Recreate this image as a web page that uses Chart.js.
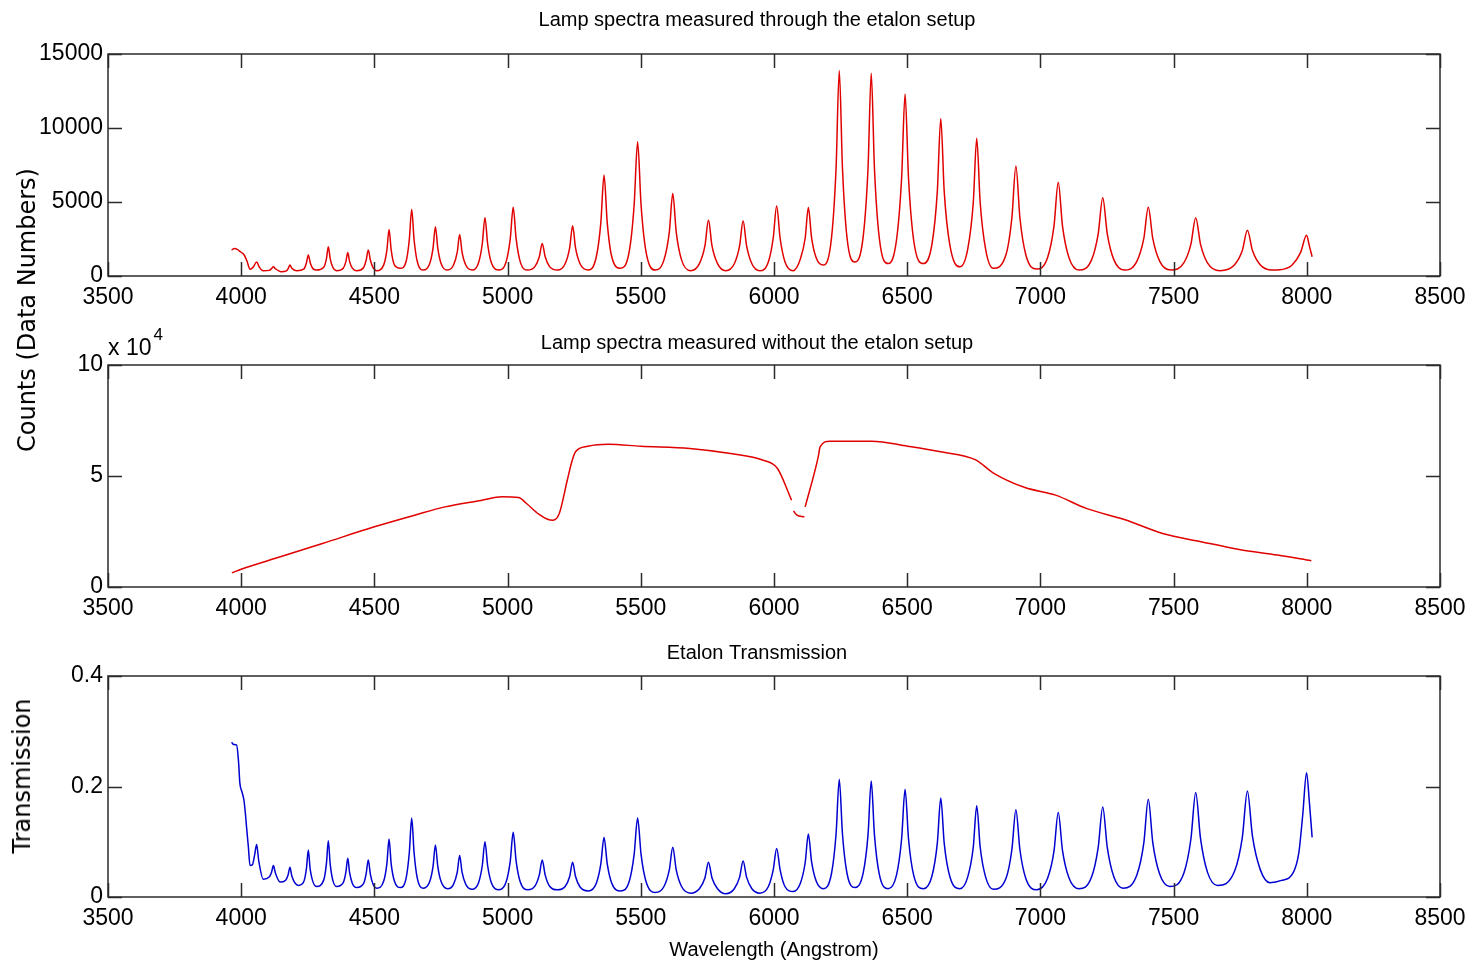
<!DOCTYPE html>
<html>
<head>
<meta charset="utf-8">
<title>Etalon spectra</title>
<script src="https://cdn.jsdelivr.net/npm/chart.js@4.4.1/dist/chart.umd.min.js"></script>
<style>
  html, body { margin: 0; padding: 0; background: #fff; }
  #page { position: relative; width: 1475px; height: 966px; overflow: hidden; }
  #page canvas { position: absolute; left: 0; }
  #c1 { top: 0; }
  #c2 { top: 311px; }
  #c3 { top: 622px; }
  .ylab {
    position: absolute; white-space: nowrap; color: #000;
    font-family: "DejaVu Sans", sans-serif; font-size: 24px;
    transform: translate(-50%, -50%) rotate(-90deg);
  }
</style>
</head>
<body>
<div id="page">
  <canvas id="c1" width="1475" height="311"></canvas>
  <canvas id="c2" width="1475" height="311"></canvas>
  <canvas id="c3" width="1475" height="344"></canvas>
  <div class="ylab" style="left:27px; top:310px;">Counts (Data Numbers)</div>
  <div class="ylab" style="left:22px; top:776px;">Transmission</div>
</div>
<script>
// ---------------------------------------------------------------- DATA

var wavelengthTicks = [3500, 4000, 4500, 5000, 5500, 6000, 6500, 7000, 7500, 8000, 8500];
var etalonTicks = [0, 5000, 10000, 15000];
var lampTicks = [0, 50000, 100000];
var transTicks = [0, 0.2, 0.4];

// [wavelength (A), counts]
var etalonCounts = [
  [3964,1760],[3975,1850],[3985,1800],[3998,1620],[4010,1450],[4022,1000],[4033,450],[4045,600],[4058,950],[4068,600],[4083,360],
  [4105,380],[4114,500],[4121,630],[4128,500],[4150,290],
  [4170,350],[4177,520],[4183,740],[4190,520],[4208,360],
  [4236,480],[4245,900],[4252,1420],[4259,900],[4270,480],[4283,400],
  [4310,590],[4320,1170],[4327,1980],[4334,1170],[4344,590],[4358,360],
  [4383,530],[4393,970],[4400,1580],[4407,970],[4417,530],[4434,360],
  [4459,560],[4469,1060],[4477,1760],[4485,1060],[4495,560],[4509,360],
  [4535,750],[4547,1760],[4555,3150],[4563,1760],[4575,750],[4598,520],
  [4619,980],[4631,2450],[4640,4500],[4649,2450],[4661,980],[4684,400],
  [4707,810],[4720,1870],[4729,3330],[4738,1870],[4751,810],[4775,400],
  [4797,740],[4811,1610],[4820,2810],[4829,1610],[4843,740],[4867,400],
  [4891,900],[4905,2180],[4915,3960],[4925,2180],[4939,900],[4968,400],
  [4995,990],[5010,2520],[5021,4640],[5032,2520],[5047,990],[5076,400],
  [5103,650],[5119,1300],[5130,2200],[5141,1300],[5157,650],[5187,400],
  [5216,830],[5233,1900],[5244,3400],[5255,1900],[5272,830],[5303,400],
  [5333,1300],[5350,3610],[5362,6820],[5374,3610],[5391,1300],[5424,520],
  [5457,1700],[5475,4800],[5488,9070],[5501,4800],[5519,1700],[5554,400],
  [5587,1090],[5607,2970],[5620,5580],[5633,2970],[5653,1090],[5687,360],
  [5720,840],[5741,2070],[5754,3780],[5767,2070],[5788,840],[5819,360],
  [5851,830],[5871,2050],[5884,3740],[5897,2050],[5917,830],[5947,360],
  [5979,970],[5997,2550],[6010,4730],[6023,2550],[6041,970],[6072,360],
  [6099,1150],[6117,2550],[6129,4620],[6141,2600],[6159,1200],[6185,740],
  [6216,2600],[6233,7300],[6245,13880],[6257,7300],[6274,2600],[6304,950],
  [6335,2700],[6353,7300],[6365,13700],[6377,7300],[6395,2600],[6429,840],
  [6460,2450],[6479,6600],[6492,12300],[6505,6600],[6524,2450],[6561,840],
  [6593,2150],[6613,5700],[6626,10650],[6639,5700],[6660,2100],[6698,620],
  [6727,1800],[6748,4950],[6761,9300],[6774,4950],[6795,1750],[6823,520],
  [6871,1450],[6893,3950],[6908,7430],[6923,3950],[6945,1450],[6986,470],
  [7027,1250],[7051,3370],[7067,6330],[7083,3370],[7107,1250],[7145,400],
  [7192,1090],[7217,2850],[7234,5290],[7251,2850],[7276,1090],[7315,400],
  [7362,990],[7388,2520],[7405,4640],[7422,2520],[7448,990],[7490,400],
  [7539,900],[7565,2150],[7583,3940],[7601,2150],[7627,890],[7674,360],
  [7729,760],[7758,1720],[7777,3090],[7796,1720],[7825,760],[7870,400],
  [7920,500],[7944,730],[7977,1600],[7999,2750],[8010,2000],[8020,1300]
];

// middle panel, lamp alone (null = break in the trace)
var lampCounts = [
  [3965,6400],[4000,8000],[4150,13700],[4305,19600],[4500,27100],[4650,32300],[4765,36100],[4900,39000],
  [4979,40600],[5041,40300],[5071,37600],[5117,32800],[5150,30500],[5170,30100],[5194,33100],[5224,48100],
  [5240,56000],[5255,60900],[5301,63400],[5378,64300],[5500,63400],[5684,62400],[5837,60100],[5960,57100],
  [6013,53400],[6066,39100],[6069,null],[6073,34300],[6085,32500],[6114,31600],[6115,null],
  [6117,36100],[6166,58600],[6173,63100],[6209,65700],[6367,65700],[6502,63400],[6626,60900],[6755,57400],
  [6827,51100],[6942,44800],[7057,41400],[7172,35400],[7315,30400],[7459,24100],[7603,20400],[7746,16900],
  [7890,14400],[8017,11800]
];

// bottom panel, etalon transmission
var transmission = [
  [3964,0.280],[3972,0.276],[3983,0.275],[3990,0.245],[3995,0.206],[4003,0.190],[4010,0.176],[4016,0.150],
  [4020,0.127],[4027,0.090],[4033,0.057],[4042,0.058],[4050,0.075],[4058,0.095],[4066,0.065],[4083,0.032],
  [4105,0.036],[4114,0.045],[4121,0.057],[4128,0.044],[4146,0.027],
  [4166,0.030],[4176,0.040],[4183,0.054],[4190,0.038],[4215,0.021],
  [4235,0.028],[4245,0.052],[4252,0.085],[4259,0.050],[4283,0.019],
  [4310,0.031],[4320,0.061],[4327,0.102],[4334,0.060],[4344,0.030],[4358,0.019],
  [4383,0.026],[4393,0.045],[4400,0.070],[4407,0.044],[4417,0.025],[4434,0.017],
  [4459,0.024],[4469,0.042],[4477,0.067],[4485,0.041],[4495,0.023],[4509,0.016],
  [4535,0.029],[4547,0.061],[4555,0.105],[4563,0.060],[4575,0.029],[4598,0.017],
  [4619,0.034],[4631,0.080],[4640,0.143],[4649,0.080],[4661,0.034],[4684,0.016],
  [4707,0.027],[4720,0.055],[4729,0.094],[4738,0.055],[4751,0.027],[4775,0.015],
  [4797,0.023],[4811,0.045],[4820,0.075],[4829,0.045],[4843,0.023],[4867,0.014],
  [4891,0.026],[4905,0.057],[4915,0.100],[4925,0.057],[4939,0.026],[4968,0.013],
  [4995,0.028],[5010,0.065],[5021,0.117],[5032,0.065],[5047,0.028],[5076,0.013],
  [5103,0.020],[5119,0.040],[5130,0.067],[5141,0.040],[5157,0.020],[5187,0.013],
  [5216,0.019],[5233,0.037],[5244,0.063],[5255,0.037],[5272,0.018],[5303,0.011],
  [5333,0.025],[5350,0.060],[5362,0.108],[5374,0.060],[5391,0.025],[5424,0.011],
  [5457,0.029],[5475,0.077],[5488,0.143],[5501,0.077],[5519,0.029],[5554,0.008],
  [5587,0.019],[5607,0.049],[5620,0.090],[5633,0.049],[5653,0.019],[5687,0.007],
  [5720,0.015],[5741,0.035],[5754,0.063],[5767,0.035],[5788,0.015],[5819,0.006],
  [5851,0.015],[5871,0.036],[5884,0.065],[5897,0.036],[5917,0.015],[5947,0.007],
  [5979,0.019],[5997,0.049],[6010,0.088],[6023,0.049],[6041,0.019],[6072,0.010],
  [6099,0.025],[6117,0.062],[6129,0.114],[6141,0.064],[6159,0.028],[6185,0.015],
  [6216,0.043],[6233,0.114],[6245,0.213],[6257,0.114],[6274,0.043],[6304,0.017],
  [6335,0.044],[6353,0.113],[6365,0.210],[6377,0.113],[6395,0.042],[6429,0.015],
  [6460,0.040],[6479,0.105],[6492,0.195],[6505,0.105],[6524,0.040],[6561,0.015],
  [6593,0.038],[6613,0.097],[6626,0.179],[6639,0.097],[6660,0.037],[6698,0.015],
  [6727,0.036],[6748,0.090],[6761,0.165],[6774,0.090],[6795,0.035],[6823,0.014],
  [6871,0.034],[6893,0.086],[6908,0.158],[6923,0.086],[6945,0.034],[6986,0.013],
  [7027,0.034],[7051,0.083],[7067,0.153],[7083,0.084],[7107,0.035],[7145,0.015],
  [7192,0.036],[7217,0.090],[7234,0.163],[7251,0.090],[7276,0.036],[7310,0.016],
  [7362,0.040],[7388,0.097],[7405,0.177],[7422,0.098],[7448,0.041],[7486,0.019],
  [7539,0.044],[7565,0.105],[7583,0.189],[7601,0.106],[7627,0.045],[7665,0.021],
  [7729,0.047],[7758,0.108],[7777,0.192],[7796,0.110],[7825,0.050],[7862,0.026],
  [7905,0.030],[7949,0.044],[7970,0.080],[7985,0.150],[7999,0.225],[8010,0.170],[8020,0.108]
];

// ---------------------------------------------------------------- HELPERS

var SANS = '"Liberation Sans", Arial, sans-serif';

function toPoints(pairs) {
  return pairs.map(function (p) { return { x: p[0], y: p[1] }; });
}

function setTicks(list) {
  return function (scale) {
    scale.ticks = list.map(function (v) { return { value: v }; });
  };
}

// matlab style frame: full box + inward ticks on all four sides
var matlabBox = {
  id: 'matlabBox',
  afterDatasetsDraw: function (chart) {
    var a = chart.chartArea, ctx = chart.ctx;
    var xs = chart.scales.x, ys = chart.scales.y, len = 14;
    ctx.save();
    ctx.strokeStyle = '#2b2b2b';
    ctx.lineWidth = 1.5;
    ctx.strokeRect(a.left, a.top, a.right - a.left, a.bottom - a.top);
    ctx.beginPath();
    xs.ticks.forEach(function (t) {
      var px = Math.round(xs.getPixelForValue(t.value)) + 0.5;
      ctx.moveTo(px, a.bottom); ctx.lineTo(px, a.bottom - len);
      ctx.moveTo(px, a.top); ctx.lineTo(px, a.top + len);
    });
    ys.ticks.forEach(function (t) {
      var py = Math.round(ys.getPixelForValue(t.value)) + 0.5;
      ctx.moveTo(a.left, py); ctx.lineTo(a.left + len, py);
      ctx.moveTo(a.right, py); ctx.lineTo(a.right - len, py);
    });
    ctx.stroke();
    ctx.restore();
  }
};

// panel title, centred a little left of the axes like the matlab figure
var panelTitle = {
  id: 'panelTitle',
  afterDraw: function (chart, args, opts) {
    var ctx = chart.ctx;
    ctx.save();
    ctx.fillStyle = '#000';
    ctx.font = '20px ' + SANS;
    ctx.textAlign = 'center';
    ctx.textBaseline = 'middle';
    ctx.fillText(opts.text, 757, opts.y);
    if (opts.exponent) {
      // "x 10^4" multiplier above the middle axes
      var a = chart.chartArea;
      ctx.textAlign = 'left';
      ctx.textBaseline = 'alphabetic';
      ctx.font = '23px ' + SANS;
      ctx.fillText('x 10', a.left, a.top - 10);
      var w = ctx.measureText('x 10').width;
      ctx.font = '17px ' + SANS;
      ctx.fillText('4', a.left + w + 2, a.top - 25);
    }
    ctx.restore();
  }
};

function panel(id, cfg) {
  var ctx = document.getElementById(id).getContext('2d');
  return new Chart(ctx, {
    type: 'line',
    data: {
      datasets: [{
        data: toPoints(cfg.data),
        borderColor: cfg.color,
        borderWidth: 1.5,
        pointRadius: 0,
        fill: false,
        spanGaps: false,
        cubicInterpolationMode: 'monotone'
      }]
    },
    options: {
      responsive: false,
      animation: false,
      layout: { padding: { left: 8, right: 35, top: 54, bottom: 0 } },
      plugins: {
        legend: { display: false },
        tooltip: { enabled: false },
        title: { display: false },
        panelTitle: { text: cfg.title, y: cfg.titleY, exponent: !!cfg.exponent }
      },
      scales: {
        x: {
          type: 'linear',
          min: 3500, max: 8500,
          afterBuildTicks: setTicks(wavelengthTicks),
          afterFit: function (s) { s.height = cfg.xHeight; },
          grid: { display: false, drawTicks: false },
          border: { display: false },
          ticks: {
            color: '#000', padding: 8, maxRotation: 0, autoSkip: false,
            font: { family: SANS, size: 23 },
            callback: function (v) { return String(v); }
          },
          title: cfg.xTitle || { display: false }
        },
        y: {
          type: 'linear',
          min: cfg.yTicks[0], max: cfg.yTicks[cfg.yTicks.length - 1],
          afterBuildTicks: setTicks(cfg.yTicks),
          afterFit: function (s) { s.width = 100; },
          grid: { display: false, drawTicks: false },
          border: { display: false },
          ticks: {
            color: '#000', padding: 5,
            font: { family: SANS, size: 23 },
            callback: cfg.yFormat
          }
        }
      }
    },
    plugins: [matlabBox, panelTitle]
  });
}

// ---------------------------------------------------------------- CHARTS

panel('c1', {
  data: etalonCounts,
  color: '#e00000',
  title: 'Lamp spectra measured through the etalon setup',
  titleY: 20,
  xHeight: 35,
  yTicks: etalonTicks,
  yFormat: function (v) { return String(v); }
});

panel('c2', {
  data: lampCounts,
  color: '#e00000',
  title: 'Lamp spectra measured without the etalon setup',
  titleY: 32,
  xHeight: 35,
  yTicks: lampTicks,
  yFormat: function (v) { return String(v / 10000); },
  exponent: true
});

panel('c3', {
  data: transmission,
  color: '#0000d0',
  title: 'Etalon Transmission',
  titleY: 31,
  xHeight: 69,
  yTicks: transTicks,
  yFormat: function (v) { return String(v); },
  xTitle: {
    display: true, text: 'Wavelength (Angstrom)', color: '#000',
    font: { family: SANS, size: 20 }, padding: { top: 0, bottom: 4 }
  }
});
</script>
</body>
</html>
